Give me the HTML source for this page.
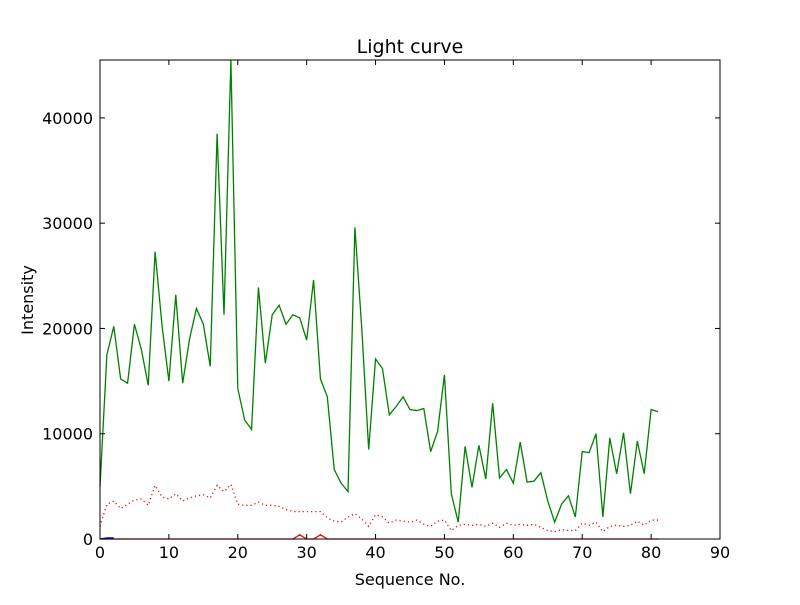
<!DOCTYPE html>
<html><head><meta charset="utf-8"><style>
body{margin:0;background:#fff;}
svg text{font-family:"DejaVu Sans","Liberation Sans",sans-serif;fill:#000;}
</style></head><body>
<svg id="chart" width="800" height="600" xmlns="http://www.w3.org/2000/svg">
<rect width="800" height="600" fill="#fff"/>
<text x="410" y="53" font-size="19" text-anchor="middle">Light curve</text>
<text x="410" y="585" font-size="16" text-anchor="middle">Sequence No.</text>
<text x="33" y="300" font-size="16" text-anchor="middle" transform="rotate(-90 33 300)">Intensity</text>
<g id="plot"></g>
</svg>
<script>
const xTicks=[0,10,20,30,40,50,60,70,80,90];
const yTicks=[0,10000,20000,30000,40000];
const green=[5000,17500,20200,15200,14800,20400,18000,14600,27300,20300,15000,23200,14800,19000,21900,20400,16400,38500,21300,45500,14300,11300,10400,23900,16700,21300,22200,20400,21300,21000,18900,24600,15200,13500,6600,5300,4500,29600,20000,8500,17100,16200,11800,12600,13500,12300,12200,12400,8300,10200,15600,4300,1600,8800,4900,8900,5700,12900,5800,6600,5300,9200,5400,5500,6300,3600,1600,3300,4100,2100,8300,8200,10000,2100,9600,6200,10100,4300,9300,6200,12300,12100];
const redDotted=[1200,3300,3600,2900,3300,3700,3800,3200,5100,4000,3800,4300,3600,3900,4100,4200,3900,5100,4500,5200,3300,3200,3200,3500,3200,3200,3100,2800,2600,2600,2600,2600,2600,2000,1700,1600,2100,2400,1900,1200,2300,2100,1500,1800,1700,1600,1800,1400,1200,1700,1800,800,1300,1400,1300,1400,1200,1500,1100,1500,1300,1400,1300,1400,1100,800,700,900,800,800,1500,1300,1600,700,1200,1300,1200,1300,1700,1300,1800,1800];
const redSolid=[0,0,0,0,0,0,0,0,0,0,0,0,0,0,0,0,0,0,0,0,0,0,0,0,0,0,0,0,0,400,0,0,400,0,0,0,0,0,0,0,0,0,0,0,0,0,0,0,0,0,0,0,0,0,0,0,0,0,0,0,0,0,0,0,0,0,0,0,0,0,0,0,0,0,0,0,0,0,0,0,0,0];
const blueSeries=[0,100,100];
const X0=100,X1=720,Y0=539,Y1=60,XMAX=90,YMAX=45500;
const sx=v=>X0+(X1-X0)*v/XMAX;
const sy=v=>Y0-(Y0-Y1)*v/YMAX;
const NS='http://www.w3.org/2000/svg';
const g=document.getElementById('plot');
function mk(t,a){const e=document.createElementNS(NS,t);for(const k in a)e.setAttribute(k,a[k]);g.appendChild(e);return e;}
function line(arr,color,dash,name){
  const p=mk('polyline',{points:arr.map((v,i)=>sx(i)+','+sy(v)).join(' '),fill:'none',stroke:color,'stroke-width':1.3});
  if(dash)p.setAttribute('stroke-dasharray',dash);
  
  
}
line(redDotted,'#ff0000','1.2,3','red-dotted-series');
line(redSolid,'#ff0000',null,'red-solid-series');
line(green,'#008000',null,'green-series');
line(blueSeries,'#0000ff',null,'blue-series');
const fr=mk('rect',{x:X0,y:Y1,width:X1-X0,height:Y0-Y1,fill:'none',stroke:'#000','stroke-width':1});


xTicks.forEach(t=>{
  const x=sx(t);
  mk('line',{x1:x,x2:x,y1:Y0,y2:Y0-5,stroke:'#000'});
  mk('line',{x1:x,x2:x,y1:Y1,y2:Y1+5,stroke:'#000'});
  const tx=mk('text',{x:x,y:Y0+19,'font-size':16,'text-anchor':'middle'});
  tx.textContent=t;
  
  
});
yTicks.forEach(t=>{
  const y=sy(t);
  mk('line',{x1:X0,x2:X0+5,y1:y,y2:y,stroke:'#000'});
  mk('line',{x1:X1,x2:X1-5,y1:y,y2:y,stroke:'#000'});
  const tx=mk('text',{x:X0-7,y:y+6,'font-size':16,'text-anchor':'end'});
  tx.textContent=t;
  
  
});
</script>
</body></html>
